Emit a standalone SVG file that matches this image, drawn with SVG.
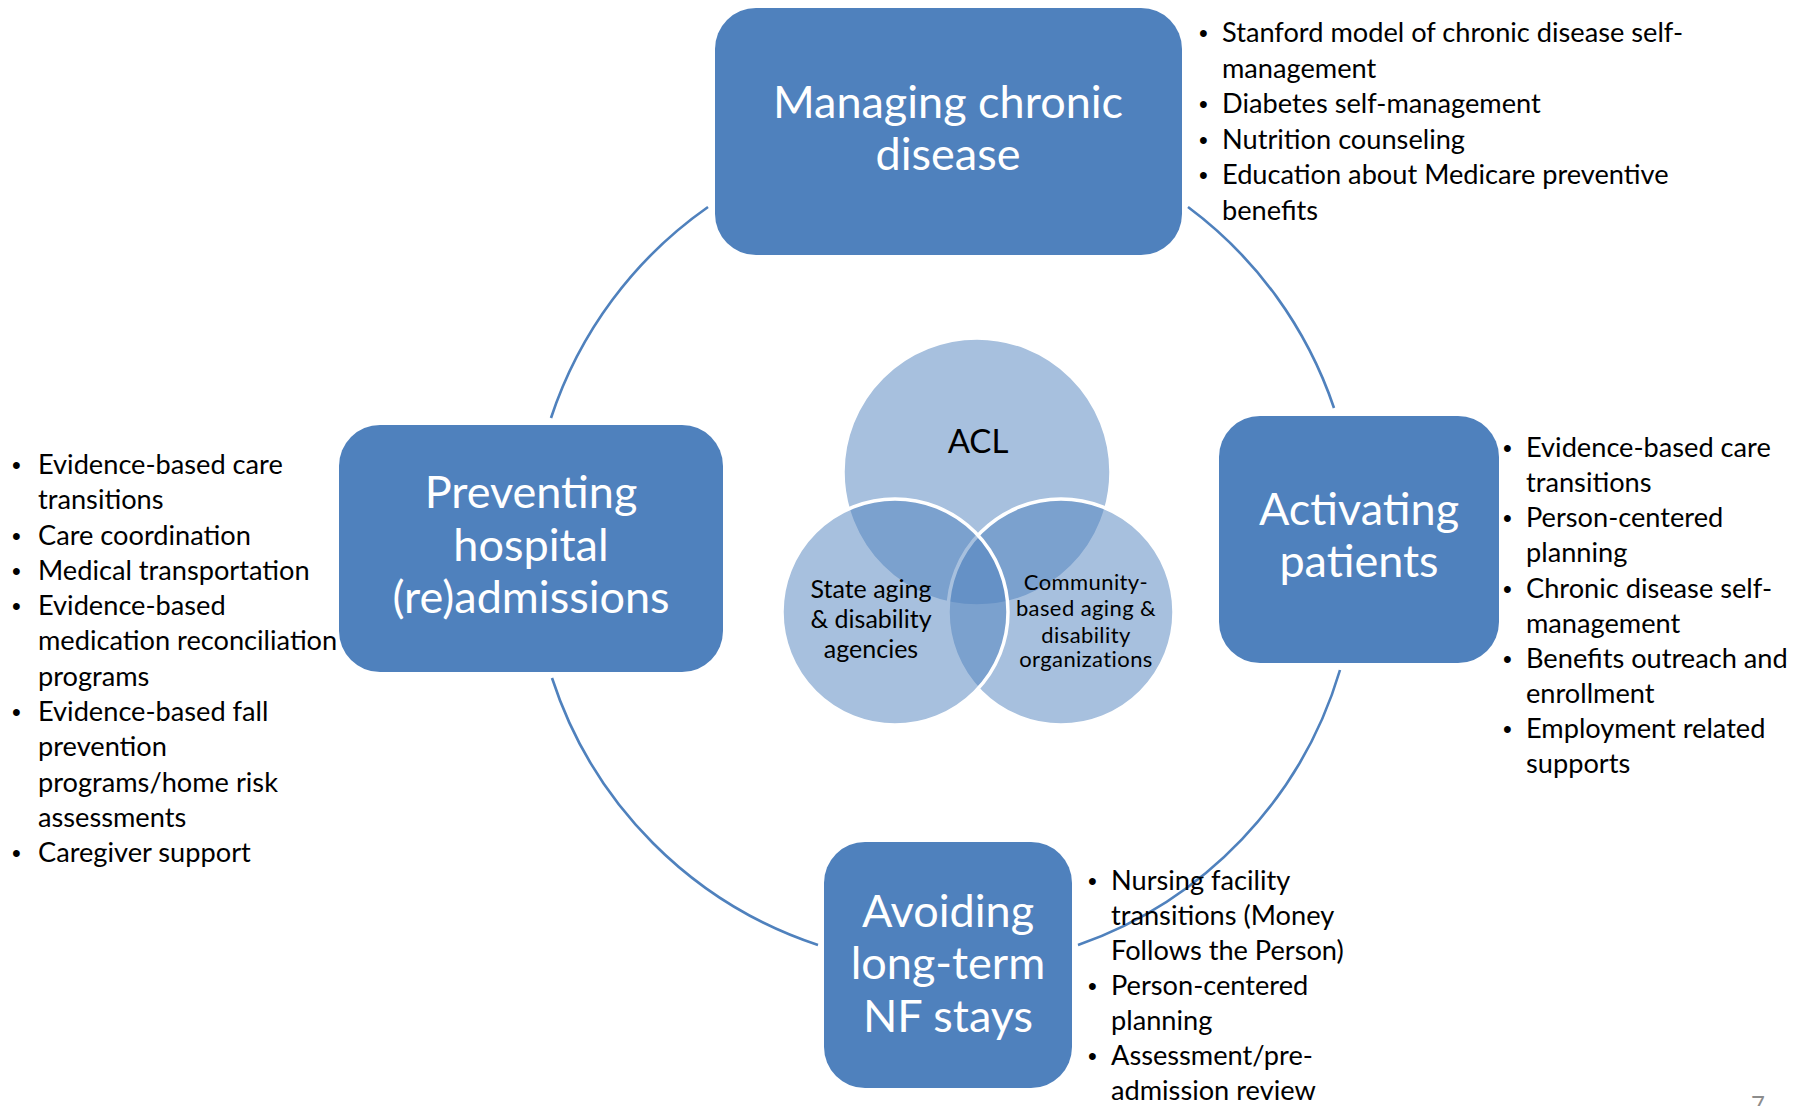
<svg xmlns="http://www.w3.org/2000/svg" width="1803" height="1106" viewBox="0 0 1803 1106">
<style>
.box{fill:#4F81BD}
.bt{font-family:Lato,"Open Sans",sans-serif;font-size:45px;fill:#FFFFFF;text-anchor:middle}
.li{font-family:Lato,"Open Sans",sans-serif;font-size:27.2px;fill:#000000}
.bu{font-family:"Liberation Sans",Arial,sans-serif;font-size:25px;fill:#000000}
.arc{fill:none;stroke:#4F81BD;stroke-width:2.6}
.venn{fill:#4F81BD;fill-opacity:0.5;stroke:#FFFFFF;stroke-width:3.5}
.vt{font-family:Lato,"Open Sans",sans-serif;fill:#000000;text-anchor:middle}
</style>
<rect width="1803" height="1106" fill="#FFFFFF"/>

<g id="connectors">
<path class="arc" d="M 551 418 A 417 417 0 0 1 708 207"/>
<path class="arc" d="M 1188 207 A 417 417 0 0 1 1334 408"/>
<path class="arc" d="M 1340 670 A 417 417 0 0 1 1078 945"/>
<path class="arc" d="M 818 945 A 417 417 0 0 1 552 678"/>
</g>

<g id="venn">
<g id="acl">
<circle class="venn" cx="977" cy="472" r="134"/>
</g>
<g id="community">
<circle class="venn" cx="1061" cy="612" r="113"/>
</g>
<g id="state">
<circle class="venn" cx="895" cy="612" r="113"/>
</g>
<text class="vt" x="978" y="453" font-size="33">ACL</text>
<text class="vt" font-size="25"><tspan x="871" y="598">State aging</tspan><tspan x="871" y="628">&amp; disability</tspan><tspan x="871" y="658">agencies</tspan></text>
<text class="vt" font-size="22" letter-spacing="0.4"><tspan x="1086" y="590">Community-</tspan><tspan x="1086" y="616">based aging &amp;</tspan><tspan x="1086" y="643">disability</tspan><tspan x="1086" y="667">organizations</tspan></text>
</g>

<g id="node-managing">
<rect class="box" x="715" y="8" width="467" height="247" rx="41"/>
<text class="bt"><tspan x="948" y="118">Managing chronic</tspan><tspan x="948" y="170">disease</tspan></text>
</g>

<g id="node-preventing">
<rect class="box" x="339" y="425" width="384" height="247" rx="41"/>
<text class="bt"><tspan x="531" y="508">Preventing</tspan><tspan x="531" y="561">hospital</tspan><tspan x="531" y="613">(re)admissions</tspan></text>
</g>

<g id="node-activating">
<rect class="box" x="1219" y="416" width="280" height="247" rx="41"/>
<text class="bt"><tspan x="1359" y="525">Activating</tspan><tspan x="1359" y="577">patients</tspan></text>
</g>

<g id="node-avoiding">
<rect class="box" x="824" y="842" width="248" height="246" rx="41"/>
<text class="bt"><tspan x="948" y="927">Avoiding</tspan><tspan x="948" y="979">long-term</tspan><tspan x="948" y="1032">NF stays</tspan></text>
</g>

<g id="list-top">
<text class="bu"><tspan x="1199" y="42">•</tspan><tspan x="1199" y="113">•</tspan><tspan x="1199" y="149">•</tspan><tspan x="1199" y="184">•</tspan></text>
<text class="li"><tspan x="1222" y="42">Stanford model of chronic disease self-</tspan><tspan x="1222" y="78">management</tspan><tspan x="1222" y="113">Diabetes self-management</tspan><tspan x="1222" y="149">Nutrition counseling</tspan><tspan x="1222" y="184">Education about Medicare preventive</tspan><tspan x="1222" y="220">benefits</tspan></text>
</g>

<g id="list-left">
<text class="bu"><tspan x="12" y="474">•</tspan><tspan x="12" y="545">•</tspan><tspan x="12" y="580">•</tspan><tspan x="12" y="615">•</tspan><tspan x="12" y="721">•</tspan><tspan x="12" y="862">•</tspan></text>
<text class="li"><tspan x="38" y="474">Evidence-based care</tspan><tspan x="38" y="509">transitions</tspan><tspan x="38" y="545">Care coordination</tspan><tspan x="38" y="580">Medical transportation</tspan><tspan x="38" y="615">Evidence-based</tspan><tspan x="38" y="650">medication reconciliation</tspan><tspan x="38" y="686">programs</tspan><tspan x="38" y="721">Evidence-based fall</tspan><tspan x="38" y="756">prevention</tspan><tspan x="38" y="792">programs/home risk</tspan><tspan x="38" y="827">assessments</tspan><tspan x="38" y="862">Caregiver support</tspan></text>
</g>

<g id="list-right">
<text class="bu"><tspan x="1503" y="457">•</tspan><tspan x="1503" y="527">•</tspan><tspan x="1503" y="598">•</tspan><tspan x="1503" y="668">•</tspan><tspan x="1503" y="738">•</tspan></text>
<text class="li"><tspan x="1526" y="457">Evidence-based care</tspan><tspan x="1526" y="492">transitions</tspan><tspan x="1526" y="527">Person-centered</tspan><tspan x="1526" y="562">planning</tspan><tspan x="1526" y="598">Chronic disease self-</tspan><tspan x="1526" y="633">management</tspan><tspan x="1526" y="668">Benefits outreach and</tspan><tspan x="1526" y="703">enrollment</tspan><tspan x="1526" y="738">Employment related</tspan><tspan x="1526" y="773">supports</tspan></text>
</g>

<g id="list-bottom">
<text class="bu"><tspan x="1088" y="890">•</tspan><tspan x="1088" y="995">•</tspan><tspan x="1088" y="1065">•</tspan></text>
<text class="li"><tspan x="1111" y="890">Nursing facility</tspan><tspan x="1111" y="925">transitions (Money</tspan><tspan x="1111" y="960">Follows the Person)</tspan><tspan x="1111" y="995">Person-centered</tspan><tspan x="1111" y="1030">planning</tspan><tspan x="1111" y="1065">Assessment/pre-</tspan><tspan x="1111" y="1100">admission review</tspan></text>
</g>

<text x="1751" y="1113" font-family="Lato,sans-serif" font-size="24" fill="#8C8C8C">7</text>
</svg>
